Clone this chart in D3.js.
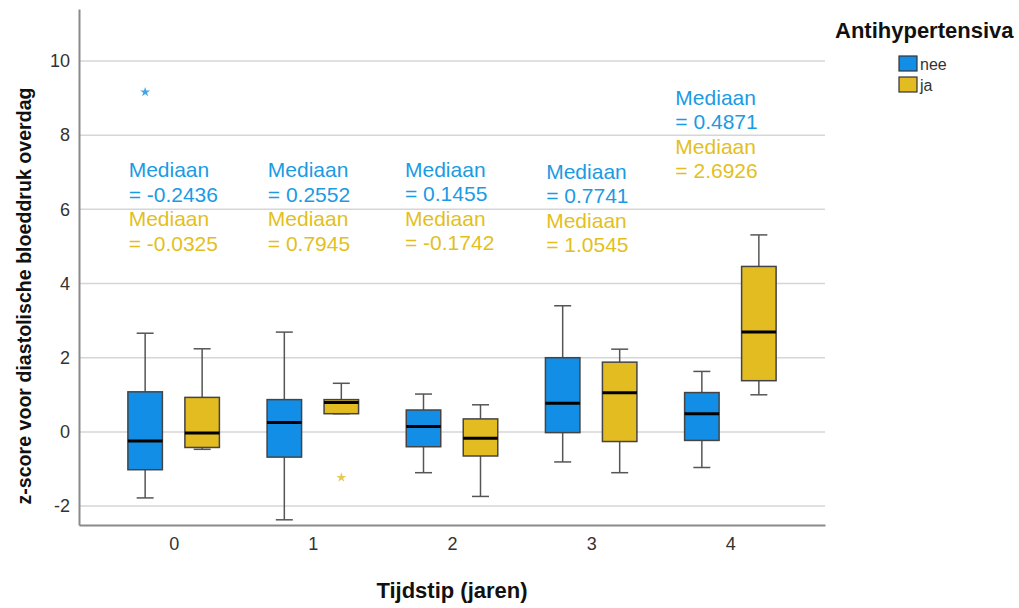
<!DOCTYPE html>
<html>
<head>
<meta charset="utf-8">
<script src="https://cdn.jsdelivr.net/npm/d3@7"></script>
<style>
  body { margin: 0; background: #fff; }
  text { font-family: "Liberation Sans", Arial, sans-serif; }
</style>
</head>
<body>
<svg id="chart" width="1019" height="608"></svg>
<script>
// tijdstippen en groepen
var years = ["0", "1", "2", "3", "4"];
var groups = ["nee", "ja"];

// [min, q1, mediaan, q3, max] per tijdstip
var neeStats = [
  [-1.78, -1.02, -0.2436, 1.08, 2.66],
  [-2.37, -0.68, 0.2552, 0.87, 2.69],
  [-1.10, -0.40, 0.1455, 0.59, 1.02],
  [-0.81, -0.02, 0.7741, 2.00, 3.40],
  [-0.96, -0.23, 0.4871, 1.06, 1.63]
];
var jaStats = [
  [-0.47, -0.42, -0.0325, 0.93, 2.24],
  [0.49, 0.49, 0.7945, 0.87, 1.31],
  [-1.74, -0.65, -0.1742, 0.35, 0.73],
  [-1.10, -0.26, 1.0545, 1.88, 2.23],
  [1.00, 1.38, 2.6926, 4.46, 5.31]
];

// extreme waarden (sterretjes)
var outliers = [
  { year: "0", group: "nee", value: 9.16 },
  { year: "1", group: "ja", value: -1.23 }
];

// hoogte van de mediaan-labels (y-waarde van eerste regel)
var labelY = [6.87, 6.87, 6.88, 6.82, 8.82];

var yTicks = [-2, 0, 2, 4, 6, 8, 10];
var colors = { nee: "#138ee6", ja: "#e2bc20" };
var textColors = { nee: "#1a9be3", ja: "#e3bf1e" };

var svg = d3.select("#chart");

var x = d3.scalePoint().domain(years).range([79, 825]).padding(0.68);
var y = d3.scaleLinear().domain([-2.51, 11.4]).range([525, 9]);
var offset = d3.scaleOrdinal().domain(groups).range([-28.5, 28.5]);
var boxW = 34.5, capW = 17;

// rasterlijnen
svg.append("g").selectAll("line").data(yTicks).join("line")
  .attr("x1", 79).attr("x2", 825)
  .attr("y1", function(d) { return y(d); }).attr("y2", function(d) { return y(d); })
  .attr("stroke", "#d6d6d6").attr("stroke-width", 1.5);

// assen
var yAxis = svg.append("g").attr("transform", "translate(79,0)")
  .call(d3.axisLeft(y).tickValues(yTicks).tickSize(0).tickPadding(9)
    .tickFormat(function(d) { return String(d); }));
var xAxis = svg.append("g").attr("transform", "translate(0,525)")
  .call(d3.axisBottom(x).tickSize(0).tickPadding(12));
[yAxis, xAxis].forEach(function(a) {
  a.select(".domain").attr("stroke", "#8a8a8a").attr("stroke-width", 2);
  a.selectAll("text").attr("font-size", 18).attr("fill", "#333")
    .style("font-family", "'Liberation Sans', Arial, sans-serif");
});

var rows = [];
years.forEach(function(yr, i) {
  rows.push({ year: yr, group: "nee", s: neeStats[i] });
  rows.push({ year: yr, group: "ja", s: jaStats[i] });
});

var box = svg.append("g").selectAll("g").data(rows).join("g")
  .attr("transform", function(d) { return "translate(" + (x(d.year) + offset(d.group)) + ",0)"; });

// whiskers
box.append("line")
  .attr("y1", function(d) { return y(d.s[4]); }).attr("y2", function(d) { return y(d.s[3]); })
  .attr("stroke", "#555").attr("stroke-width", 1.5);
box.append("line")
  .attr("y1", function(d) { return y(d.s[1]); }).attr("y2", function(d) { return y(d.s[0]); })
  .attr("stroke", "#555").attr("stroke-width", 1.5);
[0, 4].forEach(function(k) {
  box.append("line")
    .attr("x1", -capW / 2).attr("x2", capW / 2)
    .attr("y1", function(d) { return y(d.s[k]); }).attr("y2", function(d) { return y(d.s[k]); })
    .attr("stroke", "#555").attr("stroke-width", 1.5);
});

box.append("rect")
  .attr("x", -boxW / 2).attr("width", boxW)
  .attr("y", function(d) { return y(d.s[3]); })
  .attr("height", function(d) { return y(d.s[1]) - y(d.s[3]); })
  .attr("fill", function(d) { return colors[d.group]; })
  .attr("stroke", "#444").attr("stroke-width", 1.5);

box.append("line")
  .attr("x1", -boxW / 2).attr("x2", boxW / 2)
  .attr("y1", function(d) { return y(d.s[2]); }).attr("y2", function(d) { return y(d.s[2]); })
  .attr("stroke", "#000").attr("stroke-width", 3);

// sterretjes
svg.append("g").selectAll("path").data(outliers).join("path")
  .attr("d", d3.symbol(d3.symbolStar, 30))
  .attr("transform", function(d) { return "translate(" + (x(d.year) + offset(d.group)) + "," + y(d.value) + ")"; })
  .attr("fill", function(d) { return colors[d.group]; })
  .attr("opacity", 0.8);

// mediaan-labels (laatste iets naar links geschoven, zoals in SPSS)
var labelDx = [-45, -45, -47, -45, -55];
var lab = svg.append("g").selectAll("g").data(years).join("g")
  .attr("transform", function(d, i) { return "translate(" + (x(d) + labelDx[i]) + "," + y(labelY[i]) + ")"; });
function addLabel(sel, stats, grp, dy) {
  sel.append("text").attr("y", dy).attr("font-size", 21).attr("fill", textColors[grp]).text("Mediaan");
  sel.append("text").attr("y", dy + 24.5).attr("font-size", 21).attr("fill", textColors[grp])
    .text(function(d, i) { return "= " + stats[i][2].toFixed(4); });
}
addLabel(lab, neeStats, "nee", 0);
addLabel(lab, jaStats, "ja", 49);

// astitels
svg.append("text").attr("x", x("2")).attr("y", 598).attr("text-anchor", "middle")
  .attr("font-size", 22).attr("font-weight", "bold").attr("fill", "#111").text("Tijdstip (jaren)");
svg.append("text").attr("transform", "translate(31,296) rotate(-90)")
  .attr("text-anchor", "middle").attr("font-size", 19.6).attr("font-weight", "bold").attr("fill", "#111")
  .text("z-score voor diastolische bloeddruk overdag");

// legenda
var leg = svg.append("g").attr("transform", "translate(835,38)");
leg.append("text").attr("font-size", 22).attr("font-weight", "bold").attr("fill", "#111").text("Antihypertensiva");
var li = leg.selectAll("g.item").data(groups).join("g").attr("class", "item")
  .attr("transform", function(d, i) { return "translate(64," + (18 + i * 21) + ")"; });
li.append("rect").attr("width", 18).attr("height", 15)
  .attr("fill", function(d) { return colors[d]; }).attr("stroke", "#333").attr("stroke-width", 1.2);
li.append("text").attr("x", 21).attr("y", 14).attr("font-size", 16).attr("fill", "#333").text(function(d) { return d; });
</script>
</body>
</html>
